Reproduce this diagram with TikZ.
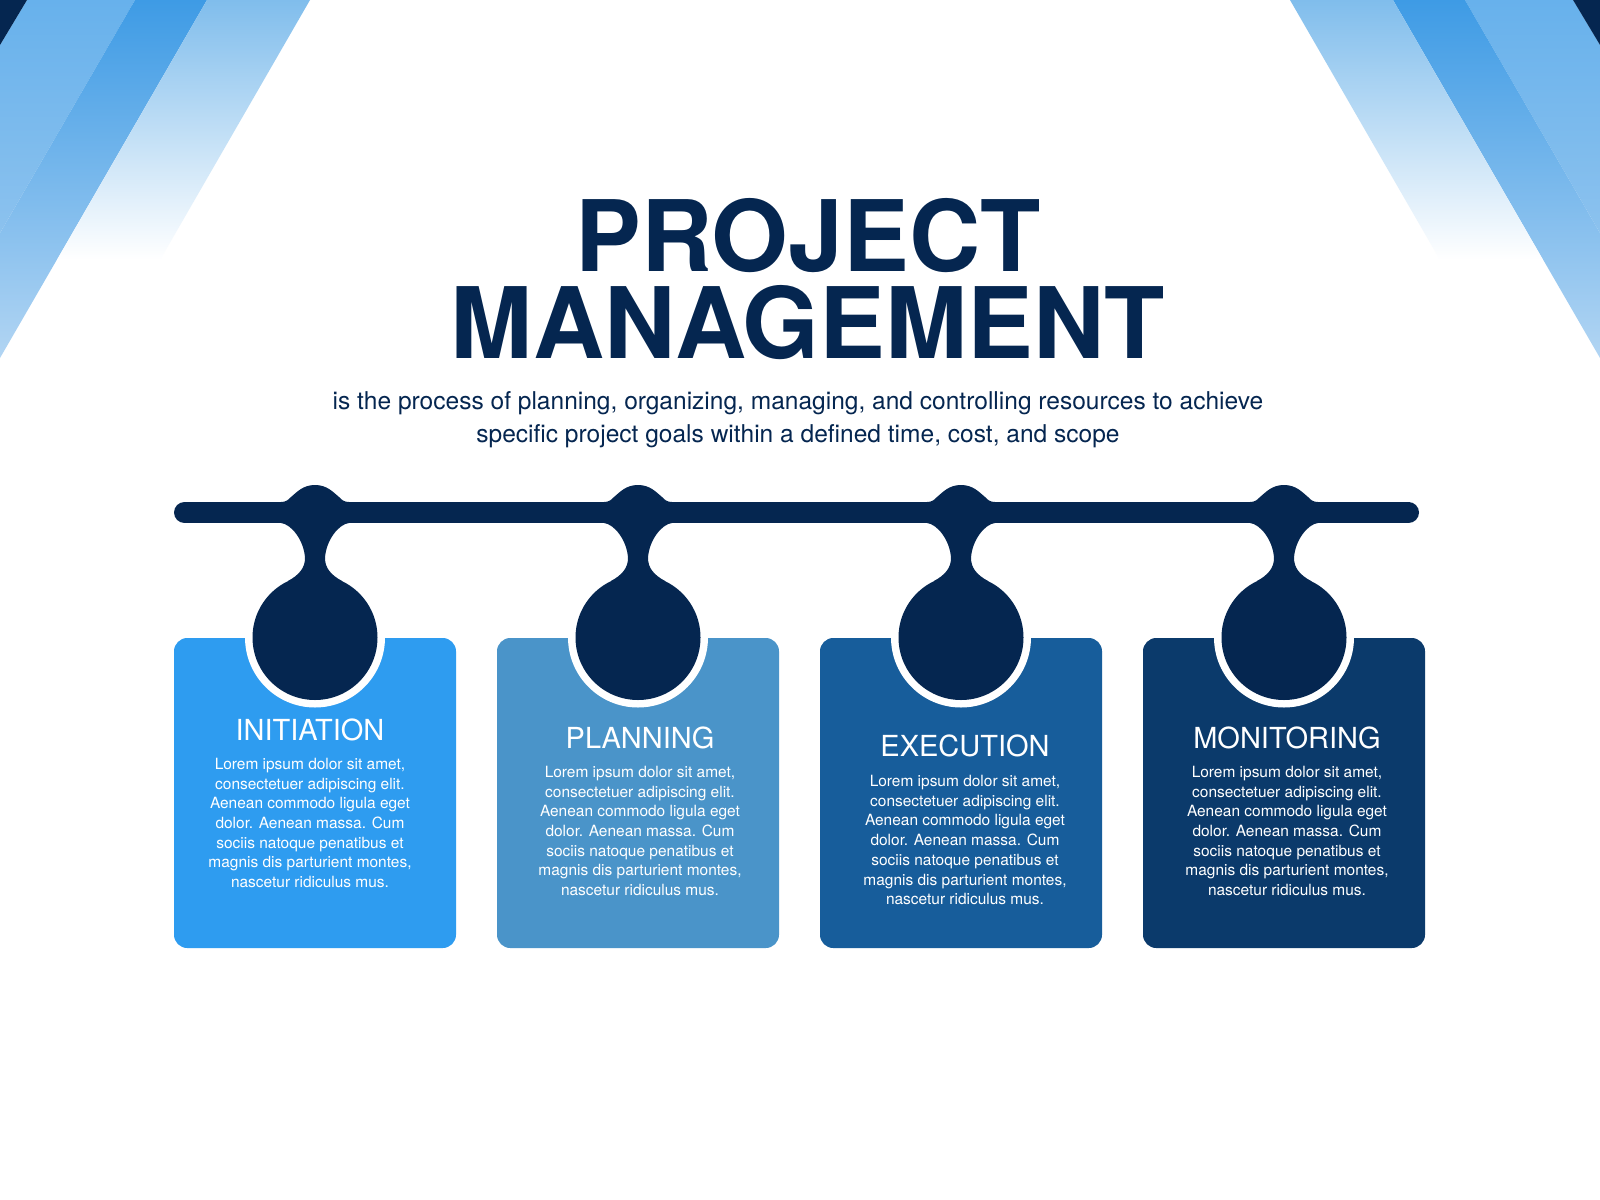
\documentclass[tikz,border=0pt]{standalone}
\usepackage{fontspec}
\setmainfont{TeX Gyre Heros}
\usepackage{tikz}
\usetikzlibrary{positioning}

\definecolor{navy}{RGB}{5,38,80}
\definecolor{cardone}{RGB}{46,156,240}
\definecolor{cardtwo}{RGB}{74,148,201}
\definecolor{cardthree}{RGB}{23,93,155}
\definecolor{cardfour}{RGB}{11,58,107}
\definecolor{stripeA}{RGB}{103,177,236}
\definecolor{stripeAlow}{RGB}{140,194,238}
\definecolor{stripeB}{RGB}{62,155,229}
\definecolor{stripeBlow}{RGB}{178,213,243}
\definecolor{stripeC}{RGB}{128,189,236}

\begin{document}
\begin{tikzpicture}[x=0.75pt,y=0.75pt,yscale=-1,xscale=1,
  card/.style={rounded corners=10pt, minimum width=211.5pt, minimum height=232.5pt, inner sep=0pt},
  cardtitle/.style={anchor=base, text=white, font=\fontsize{21.75}{26}\selectfont},
  cardtext/.style={align=center, text=white, inner sep=0pt, font=\fontsize{11.6}{14.8}\selectfont}]
\useasboundingbox (0,0) rectangle (1600,1200);
\fill[white] (0,0) rectangle (1600,1200);

%Shape: Stripes left
\shade[top color=stripeA, bottom color=stripeAlow] (27,0) -- (135,0) -- (0,233) -- (0,45) -- cycle;
\shade[top color=stripeB, bottom color=stripeBlow] (135,0) -- (207,0) -- (0,358) -- (0,233) -- cycle;
\shade[top color=stripeC, bottom color=white] (207,0) -- (310,0) -- (160,260) -- (57,260) -- cycle;
\fill[navy] (0,0) -- (27,0) -- (0,45) -- cycle;
%Shape: Stripes right
\shade[top color=stripeA, bottom color=stripeAlow] (1573,0) -- (1465,0) -- (1600,233) -- (1600,45) -- cycle;
\shade[top color=stripeB, bottom color=stripeBlow] (1465,0) -- (1393,0) -- (1600,358) -- (1600,233) -- cycle;
\shade[top color=stripeC, bottom color=white] (1393,0) -- (1290,0) -- (1440,260) -- (1543,260) -- cycle;
\fill[navy] (1600,0) -- (1573,0) -- (1600,45) -- cycle;

% Title
\node[align=center, inner sep=0pt, text=navy, font=\bfseries\fontsize{74}{65.25}\selectfont] (title) at (808,279) {PROJECT\\MANAGEMENT};
\node[align=center, inner sep=0pt, text=navy, font=\fontsize{18.4}{24.75}\selectfont] (subtitle) at (798,420) {is the process of planning, organizing, managing, and controlling resources to achieve\\specific project goals within a defined time, cost, and scope};

%Shape: Cards
\node[card, fill=cardone] (initcard) at (315,793) {};
\node[card, fill=cardtwo] (plancard) at (638,793) {};
\node[card, fill=cardthree] (execcard) at (961,793) {};
\node[card, fill=cardfour] (moncard) at (1284,793) {};

%Straight Lines: bar
\coordinate (barleft) at (184.5,512.5);
\coordinate (barright) at (1408.5,512.5);
\draw[navy, line width=15.75pt, line cap=round] (barleft) -- (barright);

%Shape: drops
\foreach \cx in {315,638,961,1284}{
  \fill[white] (\cx,637.5) circle [radius=70];
  \fill[navy] (\cx,637.5) circle [radius=62.5];
  \fill[navy] (\cx,485) .. controls (\cx+12,485) and (\cx+18,492) .. (\cx+24,497)
    .. controls (\cx+27,500) and (\cx+29,502) .. (\cx+34,502) -- (\cx+34,523)
    .. controls (\cx+24,524) and (\cx+11,540) .. (\cx+10,558)
    .. controls (\cx+10,568) and (\cx+16,575) .. (\cx+27,581)
    -- (\cx+27,610) -- (\cx-27,610) -- (\cx-27,581)
    .. controls (\cx-16,575) and (\cx-10,568) .. (\cx-10,558)
    .. controls (\cx-11,540) and (\cx-24,524) .. (\cx-34,523) -- (\cx-34,502)
    .. controls (\cx-29,502) and (\cx-27,500) .. (\cx-24,497)
    .. controls (\cx-18,492) and (\cx-12,485) .. (\cx,485) -- cycle;
}

% Text Node
\node[cardtitle] (inittitle) at (310,740.5) {INITIATION};
\node[cardtitle] (plantitle) at (640,748.3) {PLANNING};
\node[cardtitle] (exectitle) at (965,756.7) {EXECUTION};
\node[cardtitle] (montitle) at (1287,748.3) {MONITORING};
% Text Node
\node[cardtext] (inittext) at (310,823) {Lorem ipsum dolor sit amet,\\consectetuer adipiscing elit.\\Aenean commodo ligula eget\\dolor. Aenean massa. Cum\\sociis natoque penatibus et\\magnis dis parturient montes,\\nascetur ridiculus mus.};
\node[cardtext] (plantext) at (640,831) {Lorem ipsum dolor sit amet,\\consectetuer adipiscing elit.\\Aenean commodo ligula eget\\dolor. Aenean massa. Cum\\sociis natoque penatibus et\\magnis dis parturient montes,\\nascetur ridiculus mus.};
\node[cardtext] (exectext) at (965,840) {Lorem ipsum dolor sit amet,\\consectetuer adipiscing elit.\\Aenean commodo ligula eget\\dolor. Aenean massa. Cum\\sociis natoque penatibus et\\magnis dis parturient montes,\\nascetur ridiculus mus.};
\node[cardtext] (montext) at (1287,831) {Lorem ipsum dolor sit amet,\\consectetuer adipiscing elit.\\Aenean commodo ligula eget\\dolor. Aenean massa. Cum\\sociis natoque penatibus et\\magnis dis parturient montes,\\nascetur ridiculus mus.};

\end{tikzpicture}
\end{document}
